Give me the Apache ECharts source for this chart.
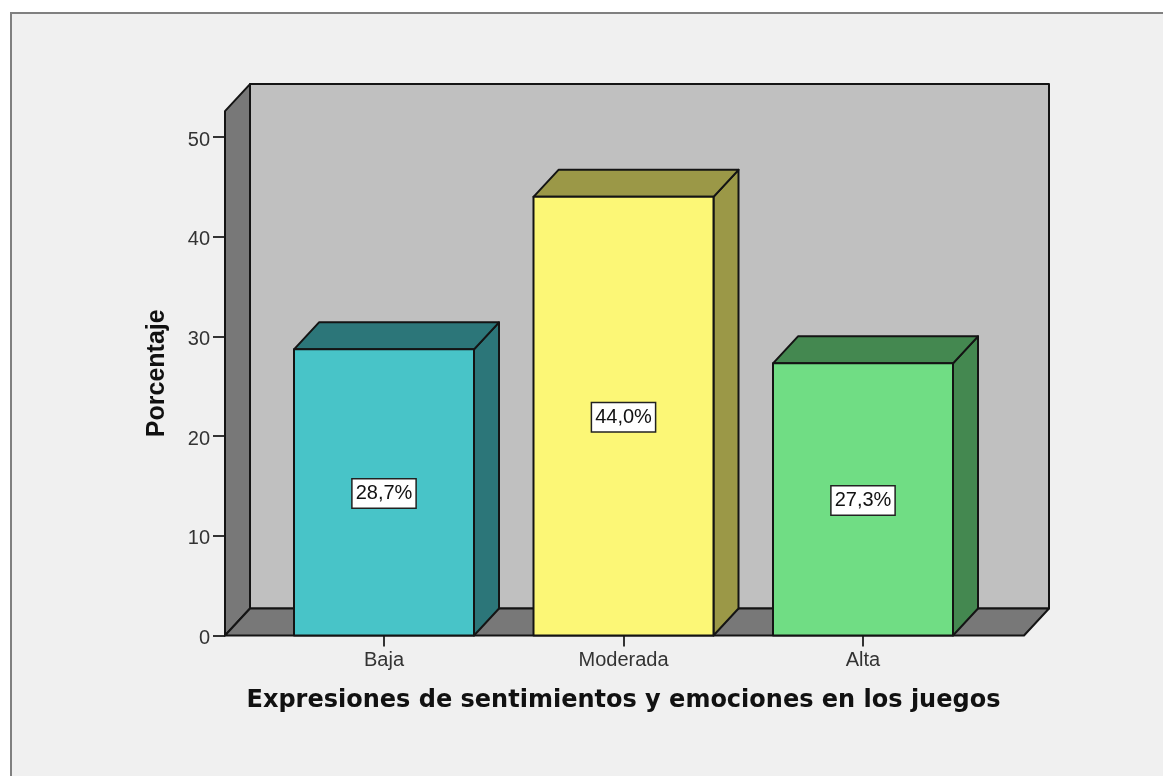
<!DOCTYPE html>
<html>
<head>
<meta charset="utf-8">
<style>
  html, body { margin: 0; padding: 0; background: #fff; }
  #main { width: 1163px; height: 776px; }
</style>
<script src="https://cdn.jsdelivr.net/npm/echarts@6/dist/echarts.min.js"></script>
</head>
<body>
<div id="main"></div>
<script>
  var categories = ['Baja', 'Moderada', 'Alta'];
  var percentages = [28.7, 44.0, 27.3];
  var frontColors = ['#48c4c8', '#fcf776', '#70dd84'];
  var darkColors = ['#2c7679', '#9b9847', '#448850'];
  var yTicks = { min: 0, max: 50, interval: 10 };

  var depthX = 25, depthY = -27; // 3d offset of the box
  var barWidth = 180;
  var edge = '#141414';

  function poly(points, fill) {
    return { type: 'polygon', shape: { points: points }, style: { fill: fill, stroke: edge, lineWidth: 2, lineJoin: 'round' } };
  }

  // walls and floor behind the bars
  function renderWalls(params, api) {
    var base = api.coord([0, 0]);
    var last = api.coord([2, 0]);
    var top = api.coord([0, 52.6])[1];
    var l = base[0] - 159, r = last[0] + 161, b = base[1];
    return {
      type: 'group',
      children: [
        poly([[l + depthX, top + depthY], [r + depthX, top + depthY], [r + depthX, b + depthY], [l + depthX, b + depthY]], '#c0c0c0'),
        poly([[l, top], [l + depthX, top + depthY], [l + depthX, b + depthY], [l, b]], '#787878'),
        poly([[l, b], [l + depthX, b + depthY], [r + depthX, b + depthY], [r, b]], '#787878')
      ]
    };
  }

  function renderBar(params, api) {
    var i = params.dataIndex;
    var p = api.coord([api.value(0), api.value(1)]);
    var b = api.coord([api.value(0), 0])[1];
    var l = p[0] - barWidth / 2, r = p[0] + barWidth / 2, t = p[1];
    return {
      type: 'group',
      children: [
        poly([[r, t], [r + depthX, t + depthY], [r + depthX, b + depthY], [r, b]], darkColors[i]),
        poly([[l, t], [l + depthX, t + depthY], [r + depthX, t + depthY], [r, t]], darkColors[i]),
        poly([[l, t], [r, t], [r, b], [l, b]], frontColors[i]),
        {
          type: 'text',
          style: {
            x: p[0], y: (t + b) / 2 + 1,
            text: api.value(1).toFixed(1).replace('.', ',') + '%',
            align: 'center', verticalAlign: 'middle',
            font: '20px "Liberation Sans"',
            fill: '#111',
            backgroundColor: '#fff',
            borderColor: '#222',
            borderWidth: 1.5,
            padding: [5, 3, 3, 3]
          }
        }
      ]
    };
  }

  var chart = echarts.init(document.getElementById('main'), null, { renderer: 'canvas' });
  chart.setOption({
    animation: false,
    backgroundColor: '#fff',
    graphic: [{
      type: 'rect', z: -10,
      shape: { x: 11, y: 13, width: 1200, height: 800 },
      style: { fill: '#f0f0f0', stroke: '#808080', lineWidth: 2 }
    }],
    grid: { left: 264.25, top: 137, width: 718.5, height: 498.5 },
    xAxis: {
      type: 'category',
      data: categories,
      name: 'Expresiones de sentimientos y emociones en los juegos',
      nameLocation: 'middle',
      nameGap: 53,
      nameTextStyle: { fontFamily: 'DejaVu Sans', fontWeight: 'bold', fontSize: 24, color: '#111' },
      axisLine: { show: false },
      axisTick: { show: true, alignWithLabel: true, length: 11, lineStyle: { color: '#333', width: 2 } },
      axisLabel: { margin: 15, fontFamily: 'Liberation Sans', fontSize: 20, color: '#333' }
    },
    yAxis: {
      type: 'value',
      min: yTicks.min,
      max: yTicks.max,
      interval: yTicks.interval,
      offset: 39.25,
      name: 'Porcentaje',
      nameLocation: 'middle',
      nameGap: 55,
      nameTextStyle: { fontFamily: 'Liberation Sans', fontWeight: 'bold', fontSize: 25, color: '#111', padding: [0, 0, 0, 26] },
      axisLine: { show: false },
      axisTick: { show: true, length: 12, lineStyle: { color: '#333', width: 2 } },
      axisLabel: { margin: 15, verticalAlign: 'top', lineHeight: 6, fontFamily: 'Liberation Sans', fontSize: 20, color: '#333' },
      splitLine: { show: false }
    },
    series: [
      {
        type: 'custom', silent: true, clip: false, z: 1,
        renderItem: renderWalls,
        encode: { x: 0, y: 1 },
        data: [[0, 0]]
      },
      {
        type: 'custom', silent: true, clip: false, z: 2,
        renderItem: renderBar,
        encode: { x: 0, y: 1 },
        data: percentages.map(function (v, i) { return [i, v]; })
      }
    ]
  });
</script>
</body>
</html>
